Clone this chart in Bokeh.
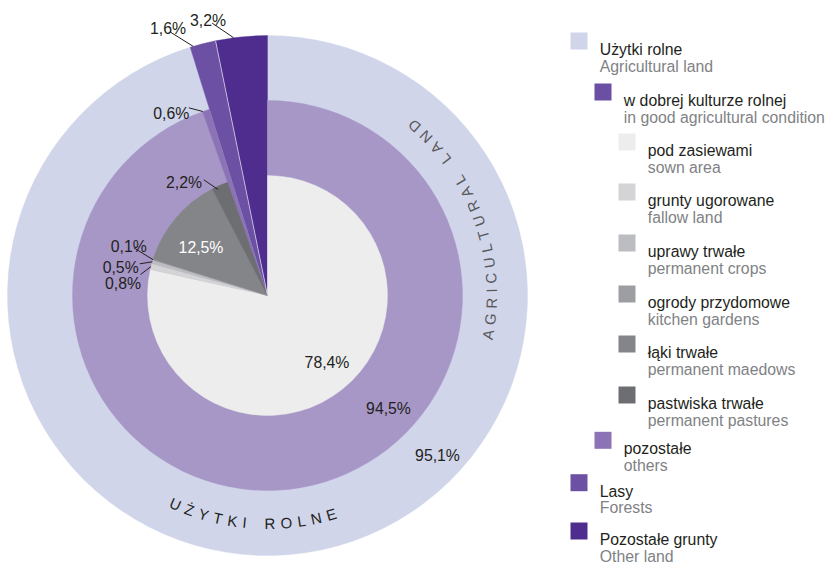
import math
from bokeh.plotting import figure
from bokeh.models import Range1d, ColumnDataSource
from bokeh.core.properties import value
from bokeh.embed import file_html
from bokeh.resources import INLINE

# ---------------- data ----------------
outer_names = ["Użytki rolne", "Lasy", "Pozostałe grunty"]
outer_values = [95.1, 1.6, 3.2]
outer_colors = ["#D0D5EA", "#6B50A3", "#4F2D8F"]

middle_names = ["w dobrej kulturze rolnej", "pozostałe"]
middle_values = [94.5, 0.6]
middle_colors = ["#A797C7", "#8C73B6"]

inner_names = ["pod zasiewami", "grunty ugorowane", "uprawy trwałe",
               "ogrody przydomowe", "łąki trwałe", "pastwiska trwałe"]
inner_values = [78.4, 0.8, 0.5, 0.1, 12.5, 2.2]
inner_colors = ["#EDEDED", "#D4D4D6", "#BCBDC0", "#9D9EA1", "#848588", "#6D6E71"]

legend_pl = ["Użytki rolne", "w dobrej kulturze rolnej", "pod zasiewami",
             "grunty ugorowane", "uprawy trwałe", "ogrody przydomowe",
             "łąki trwałe", "pastwiska trwałe", "pozostałe", "Lasy",
             "Pozostałe grunty"]
legend_en = ["Agricultural land", "in good agricultural condition", "sown area",
             "fallow land", "permanent crops", "kitchen gardens",
             "permanent maedows", "permanent pastures", "others", "Forests",
             "Other land"]
legend_colors = ["#D0D5EA", "#6B4FA3", "#EDEDED", "#D4D4D6", "#BCBDC0",
                 "#9D9EA1", "#848588", "#6D6E71", "#8C73B6", "#6B50A3", "#4F2D8F"]
legend_levels = [0, 1, 2, 2, 2, 2, 2, 2, 1, 0, 0]

ring_title_pl = "UŻYTKI ROLNE"
ring_title_en = "AGRICULTURAL LAND"

# ---------------- layout ----------------
W, H = 833, 563
PAGE_H = 563
FONT = "Liberation Sans"
FS = "15.8px"
DARK = "#231F20"
GREY = "#808285"

def Y(py):
    return PAGE_H - py

CX, CY = 267, Y(295)
R_OUT, R_MID, R_IN = 260, 195, 120
TOTAL = sum(outer_values)

def ang(c):
    return math.pi / 2 - 2 * math.pi * c / TOTAL

def pt(c, r):
    a = ang(c)
    return CX + r * math.cos(a), CY + r * math.sin(a)

p = figure(width=W, height=H, output_backend="svg", toolbar_location=None,
           x_range=Range1d(0, W), y_range=Range1d(0, H),
           x_axis_type=None, y_axis_type=None, min_border=0,
           outline_line_color=None, background_fill_color="white",
           border_fill_color="white")
p.grid.visible = False

def ring(values, colors, radius, start=0.0):
    cum = [start]
    for v in values:
        cum.append(cum[-1] + v)
    src = ColumnDataSource(dict(
        s=[ang(a) for a in cum[:-1]], e=[ang(b) for b in cum[1:]], c=colors))
    p.wedge(x=CX, y=CY, radius=radius, start_angle="s", end_angle="e",
            direction="clock", fill_color="c", line_color="c",
            line_width=0.4, source=src)
    return cum

outer_cum = ring(outer_values, outer_colors, R_OUT)
middle_cum = ring(middle_values, middle_colors, R_MID)
inner_cum = ring(inner_values, inner_colors, R_IN)

# thin light separator between forests and other land
x0, y0 = pt(outer_cum[2], 0)
x1, y1 = pt(outer_cum[2], R_OUT)
p.segment(x0=[x0], y0=[y0], x1=[x1], y1=[y1], line_color="white",
          line_width=0.8, line_alpha=0.8)

def fmt(v):
    return ("%.1f" % v).replace(".", ",") + "%"

# value labels: (value, colour, centre x, baseline (page y), leader start,
#                slice cumulative start, ring radius, position within slice)
labels = [
    (inner_values[0], DARK, 326.5, 362.3, None, None, None, None),
    (middle_values[0], DARK, 388, 408.3, None, None, None, None),
    (outer_values[0], DARK, 437, 455, None, None, None, None),
    (inner_values[4], "white", 200.5, 247.3, None, None, None, None),
    (inner_values[5], DARK, 183.5, 182.3, (203.3, 179.3), inner_cum[5], R_IN - 3, 0.3),
    (inner_values[3], DARK, 128.3, 245.7, (133.3, 247.3), inner_cum[3], R_IN, 0.5),
    (inner_values[2], DARK, 120.2, 267.3, (139.3, 263.3), inner_cum[2], R_IN, 0.5),
    (inner_values[1], DARK, 122.5, 282.7, (140.0, 274.0), inner_cum[1], R_IN, 0.5),
    (middle_values[1], DARK, 170.8, 113.3, (188.3, 107.3), middle_cum[1], R_MID, 0.05),
    (outer_values[1], DARK, 167.5, 28.3, (170.0, 31.7), outer_cum[1], R_OUT, 0.12),
    (outer_values[2], DARK, 207.5, 20.0, (211.7, 22.7), outer_cum[2], R_OUT, 0.35),
]
vals = [fmt(l[0]) for l in labels]
p.text(x=[l[2] for l in labels], y=[Y(l[3]) for l in labels], text=vals,
       text_color=[l[1] for l in labels], text_font=value(FONT),
       text_font_size=FS, text_align="center", text_baseline="alphabetic")

lx0, ly0, lx1, ly1 = [], [], [], []
for v, col, tx, ty, start, c0, r, f in labels:
    if start is None:
        continue
    ex, ey = pt(c0 + f * v, r)
    lx0.append(start[0]); ly0.append(Y(start[1]))
    lx1.append(ex); ly1.append(ey)
p.segment(x0=lx0, y0=ly0, x1=lx1, y1=ly1, line_color=DARK, line_width=1)

# ---------------- curved ring titles ----------------
CHAR_W = {"A": .667, "G": .778, "R": .722, "I": .278, "C": .722, "U": .722,
          "L": .556, "T": .611, "N": .722, "D": .722, " ": .5, "Ż": .611,
          "Y": .667, "K": .667, "O": .778, "E": .667}

def arc_text(txt, mid_deg, r, fs, ls, color):
    w = [CHAR_W.get(ch, .667) * fs for ch in txt]
    pos = [0.0]
    for i in range(1, len(txt)):
        pos.append(pos[-1] + (w[i - 1] + w[i]) / 2 + ls)
    tot = pos[-1]
    xs, ys, angs, chars = [], [], [], []
    for ch, s in zip(txt, pos):
        if ch == " ":
            continue
        a = math.radians(mid_deg) + (s - tot / 2) / r
        xs.append(CX + r * math.cos(a))
        ys.append(CY + r * math.sin(a))
        angs.append(a + math.pi / 2)
        chars.append(ch)
    p.text(x=xs, y=ys, text=chars, angle=angs, text_color=color,
           text_font=value(FONT), text_font_size="%.1fpx" % fs,
           text_align="center", text_baseline="middle")

arc_text(ring_title_en, 19.5, 224, 15, 4.9, "#58595B")
arc_text(ring_title_pl, -93.8, 228, 15, 5.2, DARK)

# ---------------- legend ----------------
baselines = [49, 100, 150, 200, 251, 302, 352, 403, 448.3, 490.7, 539.0]
SQ = 17
sq_left = [570 + 24 * lv for lv in legend_levels]
p.quad(left=sq_left, right=[x + SQ for x in sq_left],
       top=[Y(b - SQ) for b in baselines], bottom=[Y(b) for b in baselines],
       fill_color=legend_colors, line_color=None)
tx = [x + 29.3 for x in sq_left]
p.text(x=tx, y=[Y(b) for b in baselines], text=legend_pl, text_color=DARK,
       text_font=value(FONT), text_font_size=FS, text_align="left",
       text_baseline="alphabetic")
p.text(x=tx, y=[Y(b + 16.5) for b in baselines], text=legend_en, text_color=GREY,
       text_font=value(FONT), text_font_size=FS, text_align="left",
       text_baseline="alphabetic")

open("out.html", "w").write(file_html(p, INLINE))
